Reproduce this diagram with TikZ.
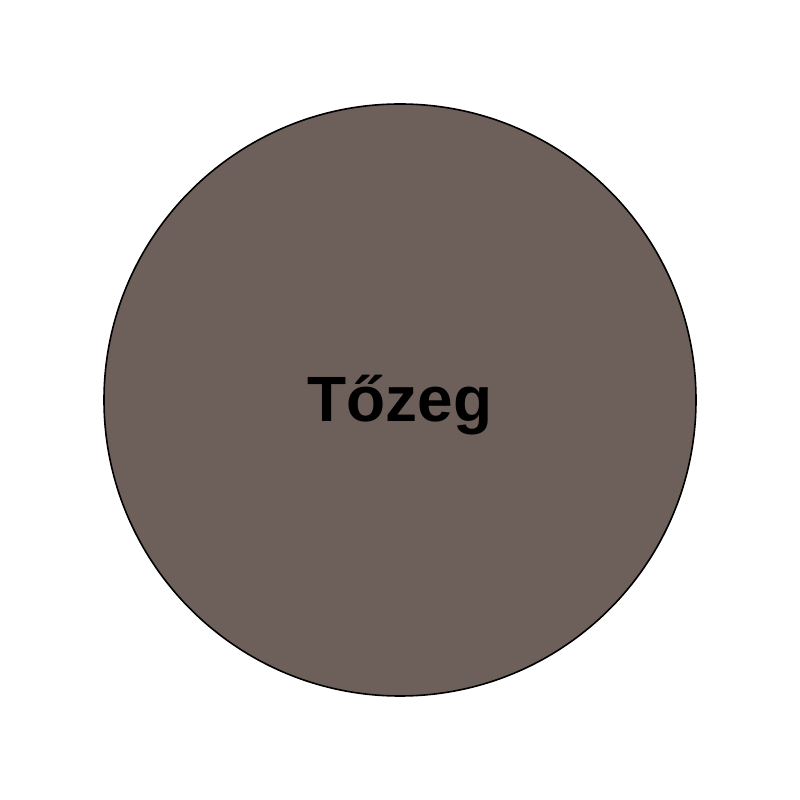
\documentclass[tikz,border=0pt]{standalone}
\usepackage{fontspec}
\setmainfont{Liberation Sans}
\definecolor{peat}{RGB}{109,95,89}
\tikzset{peatcircle/.style={draw=black,line width=1.2pt,fill=peat},
  peatlabel/.style={font=\fontsize{48}{56}\selectfont\bfseries,text=black,inner sep=0pt}}
\begin{document}
\begin{tikzpicture}[x=1pt,y=1pt]
\useasboundingbox (0,0) rectangle (600,600);
\fill[white] (0,0) rectangle (600,600);
\draw[peatcircle] (300,300) circle[radius=222];
\node[peatlabel,anchor=base] (lbl) at (300,283.5) {Tőzeg};
\end{tikzpicture}
\end{document}
